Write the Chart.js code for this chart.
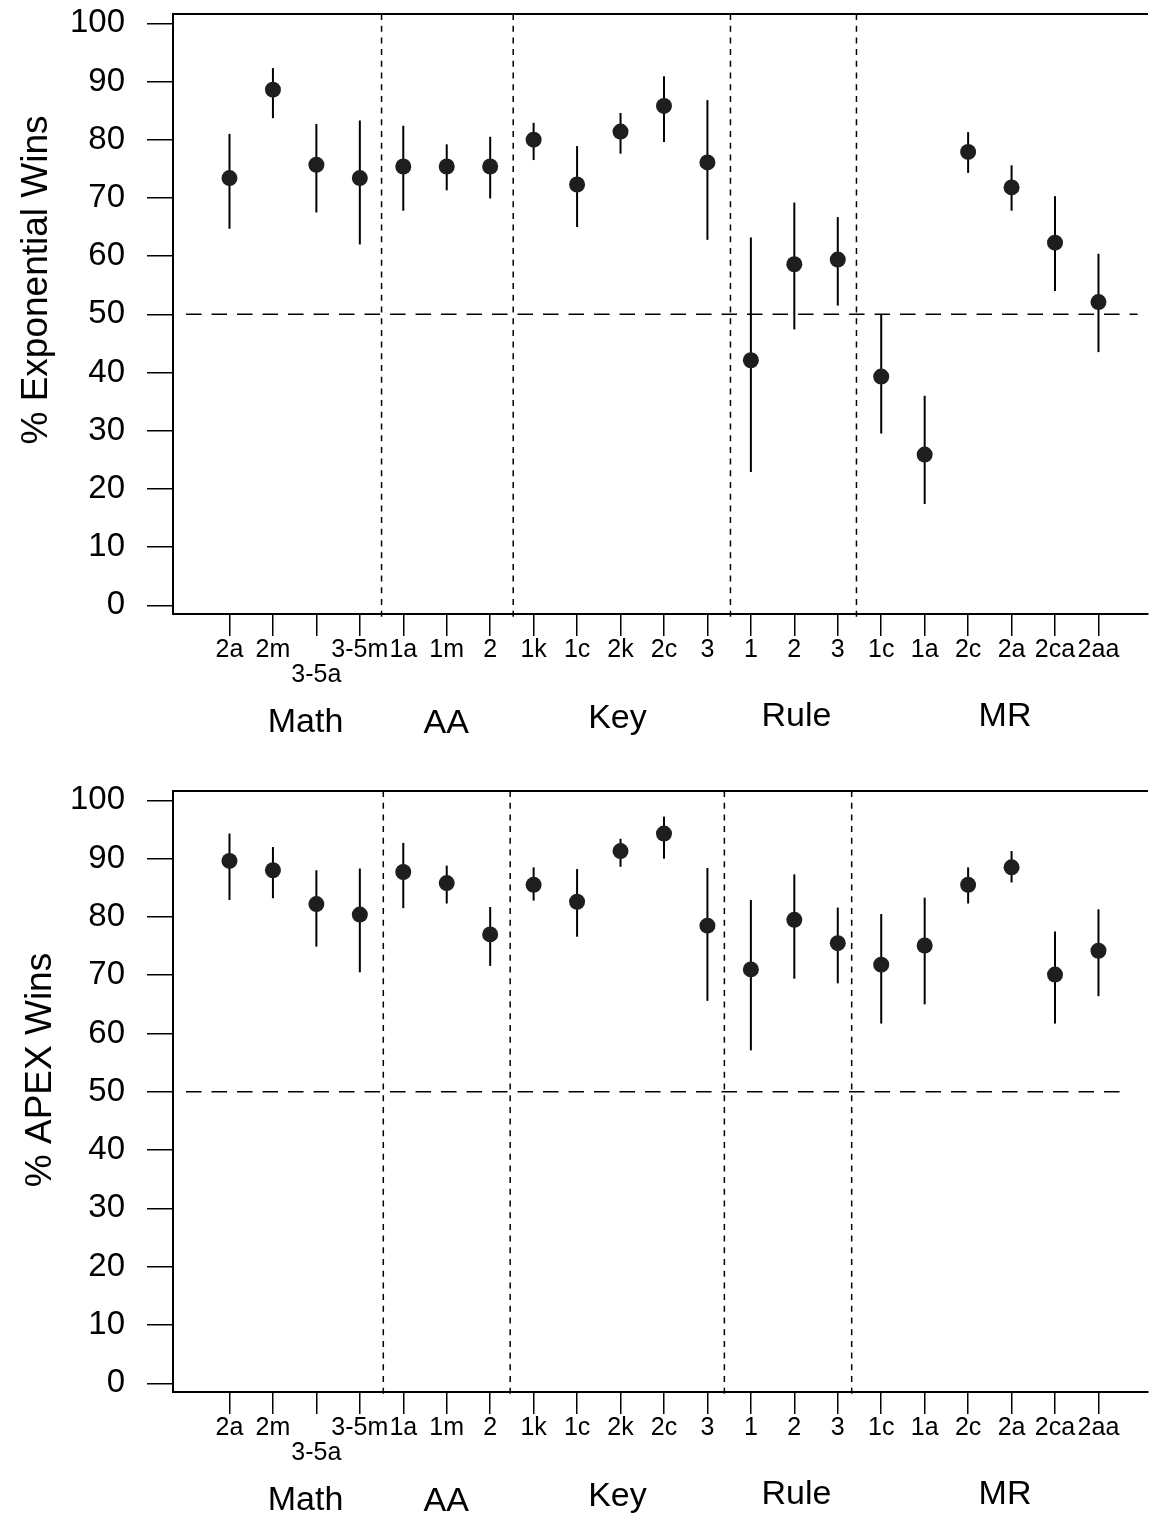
<!DOCTYPE html>
<html>
<head>
<meta charset="utf-8">
<script src="https://cdn.jsdelivr.net/npm/chart.js@4.4.0/dist/chart.umd.min.js"></script>
<style>
html, body { margin: 0; padding: 0; background: #fff; }
#top { position: absolute; left: 0; top: 0; width: 1156px; height: 760px; }
#bottom { position: absolute; left: 0; top: 760px; width: 1156px; height: 758px; }
</style>
</head>
<body>
<div id="top"><canvas id="chart-top"></canvas></div>
<div id="bottom"><canvas id="chart-bottom"></canvas></div>
<script>
var categories = ['2a', '2m', '3-5a', '3-5m', '1a', '1m', '2', '1k', '1c', '2k', '2c', '3',
                  '1', '2', '3', '1c', '1a', '2c', '2a', '2ca', '2aa'];
var groups = ['Math', 'AA', 'Key', 'Rule', 'MR'];
var yTicks = [0, 10, 20, 30, 40, 50, 60, 70, 80, 90, 100];

var expMean = [73.4, 88.6, 75.7, 73.4, 75.4, 75.4, 75.4, 80.0, 72.3, 81.4, 85.8, 76.1,
               42.1, 58.6, 59.4, 39.3, 25.9, 77.9, 71.8, 62.3, 52.1];
var expLow  = [64.7, 83.7, 67.5, 62.0, 67.8, 71.3, 69.9, 76.5, 65.0, 77.6, 79.6, 62.8,
               22.9, 47.4, 51.5, 29.5, 17.4, 74.3, 67.8, 54.0, 43.5];
var expHigh = [81.0, 92.3, 82.7, 83.3, 82.4, 79.2, 80.5, 82.9, 78.9, 84.6, 90.9, 86.8,
               63.2, 69.2, 66.7, 49.9, 36.0, 81.3, 75.6, 70.3, 60.4];

var apexMean = [89.6, 88.0, 82.2, 80.4, 87.7, 85.8, 77.0, 85.5, 82.6, 91.3, 94.3, 78.5,
                71.0, 79.5, 75.5, 71.8, 75.1, 85.5, 88.5, 70.1, 74.2];
var apexLow  = [82.9, 83.2, 74.9, 70.5, 81.5, 82.3, 71.6, 82.8, 76.6, 88.6, 90.0, 65.6,
                57.1, 69.4, 68.6, 61.7, 65.0, 82.3, 85.9, 61.7, 66.4];
var apexHigh = [94.3, 92.0, 88.0, 88.3, 92.7, 88.8, 81.7, 88.5, 88.2, 93.4, 97.2, 88.4,
                82.9, 87.3, 81.6, 80.5, 83.3, 88.5, 91.3, 77.5, 81.3];

var FONT = "'Liberation Sans', Arial, Helvetica, sans-serif";

// where the group names sit (x in category units, baseline below axis)
var groupX = [1.75, 4.99, 8.93, 13.05, 17.85];
var groupDy = [118, 119, 114, 112, 112];

function panelPlugin(p) {
    return {
        id: 'panel',
        beforeDatasetsDraw: function (chart) {
            var ctx = chart.ctx, x = chart.scales.x, y = chart.scales.y, a = chart.chartArea;
            ctx.save();
            ctx.strokeStyle = '#000';
            // top frame line
            ctx.lineWidth = 2;
            ctx.beginPath();
            ctx.moveTo(a.left, a.top);
            ctx.lineTo(a.right, a.top);
            ctx.stroke();
            // group separators
            ctx.lineWidth = 1.5;
            ctx.setLineDash([6, 5.7]);
            p.separators.forEach(function (s) {
                var px = x.getPixelForValue(s);
                ctx.beginPath();
                ctx.moveTo(px, a.top);
                ctx.lineTo(px, a.bottom + 4);
                ctx.stroke();
            });
            // 50% reference
            ctx.setLineDash([15.5, 10]);
            var py = y.getPixelForValue(50);
            ctx.beginPath();
            ctx.moveTo(x.getPixelForValue(p.refFrom), py);
            ctx.lineTo(x.getPixelForValue(p.refTo), py);
            ctx.stroke();
            // error bars
            ctx.setLineDash([]);
            ctx.lineWidth = 2;
            p.low.forEach(function (lo, i) {
                var px = x.getPixelForValue(i);
                ctx.beginPath();
                ctx.moveTo(px, y.getPixelForValue(lo));
                ctx.lineTo(px, y.getPixelForValue(p.high[i]));
                ctx.stroke();
            });
            ctx.restore();
        },
        afterDraw: function (chart) {
            var ctx = chart.ctx, x = chart.scales.x, a = chart.chartArea;
            ctx.save();
            ctx.fillStyle = '#000';
            ctx.textAlign = 'center';
            ctx.textBaseline = 'alphabetic';
            ctx.font = '34px ' + FONT;
            groups.forEach(function (g, i) {
                ctx.fillText(g, x.getPixelForValue(groupX[i]), a.bottom + groupDy[i]);
            });
            ctx.font = '37px ' + FONT;
            ctx.translate(p.titleX, p.titleY);
            ctx.rotate(-Math.PI / 2);
            ctx.fillText(p.title, 0, 0);
            ctx.restore();
        }
    };
}

function makeConfig(mean, p) {
    return {
        type: 'scatter',
        data: {
            datasets: [{
                data: mean.map(function (v, i) { return { x: i, y: v }; }),
                backgroundColor: '#1e1e1e',
                borderColor: '#1e1e1e',
                borderWidth: 0,
                pointRadius: 8,
                pointHoverRadius: 8
            }]
        },
        options: {
            responsive: true,
            maintainAspectRatio: false,
            animation: false,
            events: [],
            layout: { padding: { top: p.padTop, left: 0, right: 0, bottom: 0 } },
            plugins: { legend: { display: false }, tooltip: { enabled: false } },
            scales: {
                x: {
                    type: 'linear',
                    min: -1.3,
                    max: 21.14,
                    afterBuildTicks: function (s) {
                        s.ticks = categories.map(function (c, i) { return { value: i }; });
                    },
                    afterFit: function (s) {
                        s.height = p.axisH;
                        s.paddingLeft = 0;
                        s.paddingRight = 0;
                    },
                    grid: { drawOnChartArea: false, tickLength: 22, color: '#000', lineWidth: 1.5 },
                    border: { display: true, color: '#000', width: 2 },
                    ticks: {
                        autoSkip: false,
                        maxRotation: 0,
                        padding: 2,
                        color: '#000',
                        font: { family: FONT, size: 25, lineHeight: 0.98 },
                        callback: function (v) {
                            return v === 2 ? ['', categories[v]] : categories[v];
                        }
                    }
                },
                y: {
                    min: -1.5,
                    max: 101.6,
                    afterBuildTicks: function (s) {
                        s.ticks = yTicks.map(function (v) { return { value: v }; });
                    },
                    afterFit: function (s) {
                        s.width = 173;
                        s.paddingTop = 0;
                        s.paddingBottom = 0;
                    },
                    grid: { drawOnChartArea: false, tickLength: 26, color: '#000', lineWidth: 1.5 },
                    border: { display: true, color: '#000', width: 2 },
                    ticks: { padding: 22, color: '#000', font: { family: FONT, size: 33 } }
                }
            }
        },
        plugins: [panelPlugin(p)]
    };
}

window.onload = function () {
    var ctx = document.getElementById('chart-top').getContext('2d');
    window.topChart = new Chart(ctx, makeConfig(expMean, {
        low: expLow, high: expHigh,
        separators: [3.5, 6.53, 11.53, 14.43],
        refFrom: -1.0, refTo: 20.9,
        padTop: 14, axisH: 146,
        title: '% Exponential Wins', titleX: 47, titleY: 280
    }));
    var ctx2 = document.getElementById('chart-bottom').getContext('2d');
    window.bottomChart = new Chart(ctx2, makeConfig(apexMean, {
        low: apexLow, high: apexHigh,
        separators: [3.54, 6.46, 11.39, 14.32],
        refFrom: -1.0, refTo: 20.58,
        padTop: 31, axisH: 126,
        title: '% APEX Wins', titleX: 51, titleY: 310
    }));
};
</script>
</body>
</html>
